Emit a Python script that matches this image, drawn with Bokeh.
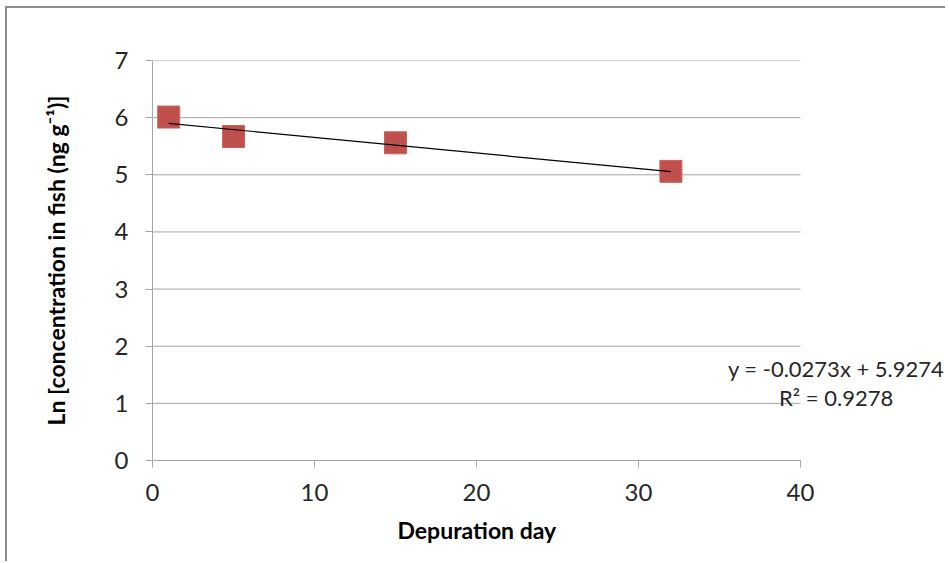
from bokeh.plotting import figure
from bokeh.models import Label, Range1d, FixedTicker, Title
from bokeh.embed import file_html
from bokeh.resources import INLINE

# data
days = [1, 5, 15, 32]
ln_conc = [6.01, 5.67, 5.56, 5.06]
slope = -0.0273
intercept = 5.9274
r2 = 0.9278
x_ticks = [0, 10, 20, 30, 40]
y_ticks = [0, 1, 2, 3, 4, 5, 6, 7]
x_min, x_max = 0, 40
y_min, y_max = 0, 7

FONT = "Lato"
GRID = "#a6a6a6"

W, H = 940, 555
LEFT, TOP, FRAME_H = 145, 52, 400
px_per_unit = 648 / (x_max - x_min)
x_end = x_min + (W - LEFT) / px_per_unit

p = figure(width=W, height=H, output_backend="svg", toolbar_location=None,
           x_range=Range1d(x_min, x_end), y_range=Range1d(y_min, y_max),
           min_border_left=LEFT, min_border_right=0, min_border_top=TOP,
           min_border_bottom=H - TOP - FRAME_H,
           styles={"margin-left": "5px", "margin-top": "6px",
                   "border-left": "2px solid #8c8c8c", "border-top": "2px solid #8c8c8c"})
p.outline_line_color = None
p.background_fill_color = "white"

p.xaxis.ticker = FixedTicker(ticks=x_ticks)
p.yaxis.ticker = FixedTicker(ticks=y_ticks)
p.xaxis.bounds = (x_min, x_max)
for ax in (p.xaxis[0], p.yaxis[0]):
    ax.axis_line_color = GRID
    ax.major_tick_line_color = GRID
    ax.major_tick_out = 7
    ax.major_tick_in = 0
    ax.minor_tick_line_color = None
    ax.major_label_text_font = FONT
    ax.major_label_text_font_size = "24px"
    ax.major_label_text_color = "#262626"
    ax.axis_label_text_font = FONT
    ax.axis_label_text_font_size = "23px"
    ax.axis_label_text_font_style = "bold"
    ax.axis_label_text_color = "black"
p.xaxis.major_label_standoff = 16
p.yaxis.major_label_standoff = 17
p.yaxis.axis_label = "Ln [concentration in fish (ng g\u207b\u00b9)]"
p.yaxis.axis_label_standoff = 42

# x-axis title centred under the 0-40 axis span (frame extends further right)
axis_center_px = (x_max - x_min) * px_per_unit / 2
title_half_w = 79
p.add_layout(Title(text="Depuration day", align="left", offset=axis_center_px - title_half_w,
                   text_font=FONT, text_font_size="23px", text_font_style="bold",
                   text_color="black", standoff=20), "below")

p.xgrid.grid_line_color = None
p.ygrid.grid_line_color = None
# horizontal gridlines limited to the axis span
p.segment(x0=[x_min] * len(y_ticks), x1=[x_max] * len(y_ticks), y0=y_ticks, y1=y_ticks,
          line_color=GRID, line_width=1)

# trend line over data span
x_line = [min(days), max(days)]
y_line = [slope * v + intercept for v in x_line]

p.scatter(days, ln_conc, marker="square", size=22, fill_color="#c0504d",
          line_color="#c9625f", line_width=1)
p.line(x_line, y_line, line_color="black", line_width=1.2)

eq_text = "y = %.4fx + %.4f" % (slope, intercept)
r2_text = "R\u00b2 = %.4f" % r2
p.add_layout(Label(x=42.2, y=1.61, text=eq_text, text_align="center", text_baseline="middle",
                   text_font=FONT, text_font_size="22px", text_color="#262626"))
p.add_layout(Label(x=42.2, y=1.10, text=r2_text, text_align="center", text_baseline="middle",
                   text_font=FONT, text_font_size="22px", text_color="#262626"))

open("out.html", "w").write(file_html(p, INLINE))
